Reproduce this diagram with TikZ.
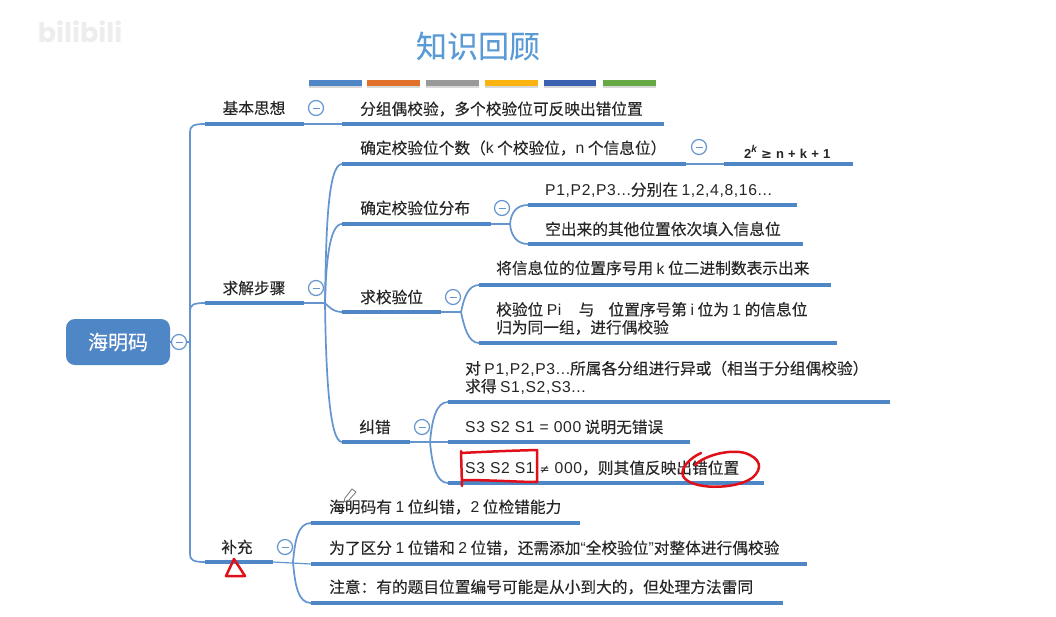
\documentclass[tikz,border=0pt]{standalone}
\usepackage{fontspec}
\setmainfont{Noto Sans CJK SC}[FakeBold=0.12]
\newfontfamily\wmfont{Poppins}
\newfontfamily\latfont{Liberation Sans}[LetterSpace=4]
\newfontfamily\symfont{DejaVu Sans}
\newcommand{\La}[1]{{\latfont #1}}
\definecolor{mmblue}{HTML}{4F86C6}
\definecolor{mmthin}{HTML}{6595CE}
\definecolor{txt}{HTML}{262626}
\definecolor{inkred}{HTML}{E0101A}
\definecolor{titleblue}{HTML}{5B9BD5}
\tikzset{
  lab/.style={anchor=west,inner sep=0pt,text=txt,font=\fontsize{15.7}{17.8}\selectfont,align=left},
  clab/.style={anchor=center,inner sep=0pt,text=txt,font=\fontsize{15.7}{17.8}\selectfont},
  barline/.style={draw=mmblue,line width=4.2pt},
  conn/.style={draw=mmthin,line width=1.7pt},
  thin conn/.style={draw=mmthin,line width=1.2pt},
  fold/.style={circle,draw=mmthin,fill=white,line width=1.2pt,minimum size=15pt,inner sep=0pt,
    path picture={\draw[mmthin,line width=1pt] ([xshift=-3.5pt]path picture bounding box.center) -- ([xshift=3.5pt]path picture bounding box.center);}},
  swatch/.style={line width=6pt},
  ink/.style={draw=inkred,line width=2.5pt,line cap=round,line join=round},
}
\begin{document}
\begin{tikzpicture}[x=1pt,y=-1pt]
\useasboundingbox (0,0) rectangle (1056,616);
\fill[white] (0,0) rectangle (1056,616);
% watermark
\node[anchor=center,inner sep=0pt,text=black!7,font=\wmfont\bfseries\fontsize{27}{27}\selectfont] (wm) at (80,32) {bilibili};
% title
\node[inner sep=0pt,text=titleblue,font=\fontsize{31}{31}\selectfont] (title) at (478,46) {知识回顾};
\foreach \p/\q in {309/362,367/420,426/479,485/538,544/596,603/656}
  \draw[swatch,draw=black!15] (\p,84.5) -- (\q,84.5);
\draw[swatch,draw=mmblue] (309,83) -- (362,83);
\draw[swatch,draw={rgb,255:red,224;green,112;blue,42}] (367,83) -- (420,83);
\draw[swatch,draw=black!40] (426,83) -- (479,83);
\draw[swatch,draw={rgb,255:red,251;green,180;blue,15}] (485,83) -- (538,83);
\draw[swatch,draw={rgb,255:red,58;green,98;blue,176}] (544,83) -- (596,83);
\draw[swatch,draw={rgb,255:red,102;green,168;blue,67}] (603,83) -- (656,83);

% coordinates for bars
\coordinate (r) at (170,342);
\coordinate (a1) at (205,124); \coordinate (a2) at (304,124);
\coordinate (b1) at (205,303); \coordinate (b2) at (304,303);
\coordinate (c1) at (205,562); \coordinate (c2) at (273,562);
\coordinate (a1c1) at (342,124); \coordinate (a1c2) at (664,124);
\coordinate (s1a) at (342,164); \coordinate (s1b) at (686,164);
\coordinate (s1c) at (724,164); \coordinate (s1d) at (853,164);
\coordinate (s2a) at (342,224); \coordinate (s2b) at (491,224);
\coordinate (s2c1a) at (528,205); \coordinate (s2c1b) at (797,205);
\coordinate (s2c2a) at (528,244); \coordinate (s2c2b) at (803,244);
\coordinate (s3a) at (342,312); \coordinate (s3b) at (441,312);
\coordinate (s3c1a) at (479,285); \coordinate (s3c1b) at (831,285);
\coordinate (s3c2a) at (479,343); \coordinate (s3c2b) at (837,343);
\coordinate (s4a) at (342,442); \coordinate (s4b) at (410,442);
\coordinate (s4c1a) at (448,402); \coordinate (s4c1b) at (890,402);
\coordinate (s4c2a) at (448,442); \coordinate (s4c2b) at (690,442);
\coordinate (s4c3a) at (448,483); \coordinate (s4c3b) at (764,483);
\coordinate (e1a) at (311,523); \coordinate (e1b) at (580,523);
\coordinate (e2a) at (311,564); \coordinate (e2b) at (807,564);
\coordinate (e3a) at (311,603); \coordinate (e3b) at (783,603);

% connectors
\draw[conn] (r) -- (190,342);
\draw[conn] (190,554) -- (190,132) .. controls (190,126) and (193,124) .. (a1);
\draw[conn] (190,311) .. controls (190,305) and (193,303) .. (b1);
\draw[conn] (190,554) .. controls (190,560) and (193,562) .. (c1);
\draw[thin conn] (a2) -- (a1c1);
\draw[thin conn] (b2) -- (325,303);
\draw[conn] (325,303) .. controls (326,240) and (327,164) .. (s1a);
\draw[conn] (325,303) .. controls (326,265) and (329,224) .. (s2a);
\draw[conn] (325,303) .. controls (328,306) and (333,312) .. (s3a);
\draw[conn] (325,303) .. controls (326,380) and (330,442) .. (s4a);
\draw[thin conn] (s1b) -- (s1c);
\draw[thin conn] (s2b) -- (510,224);
\draw[conn] (510,224) .. controls (511,212) and (517,205) .. (s2c1a);
\draw[conn] (510,224) .. controls (511,236) and (517,244) .. (s2c2a);
\draw[thin conn] (s3b) -- (461,312);
\draw[conn] (461,312) .. controls (464,298) and (468,285) .. (s3c1a);
\draw[conn] (461,312) .. controls (464,326) and (468,343) .. (s3c2a);
\draw[thin conn] (s4b) -- (s4c2a);
\draw[conn] (430,442) .. controls (432,420) and (436,402) .. (s4c1a);
\draw[conn] (430,442) .. controls (432,464) and (436,483) .. (s4c3a);
\draw[thin conn] (c2) -- (e2a);
\draw[conn] (293,562) .. controls (295,540) and (298,523) .. (e1a);
\draw[conn] (293,562) .. controls (295,585) and (298,603) .. (e3a);

% bars
\foreach \u/\v in {a1/a2,b1/b2,c1/c2,a1c1/a1c2,s1a/s1b,s1c/s1d,s2a/s2b,s2c1a/s2c1b,s2c2a/s2c2b,s3a/s3b,s3c1a/s3c1b,s3c2a/s3c2b,s4a/s4b,s4c1a/s4c1b,s4c2a/s4c2b,s4c3a/s4c3b,e1a/e1b,e2a/e2b,e3a/e3b}
  \draw[barline] (\u) -- (\v);

% root
\node[fill=mmblue,rounded corners=9pt,minimum width=104pt,minimum height=46pt,inner sep=0pt,text=white,font=\fontsize{20}{20}\selectfont] (root) at (118,342) {海明码};

% fold markers
\node[fold] (f0) at (179,342) {};
\node[fold] (f1) at (316,108) {};
\node[fold] (f2) at (316,288) {};
\node[fold] (f3) at (285,547) {};
\node[fold] (f4) at (699,147) {};
\node[fold] (f5) at (502,208) {};
\node[fold] (f6) at (453,297) {};
\node[fold] (f7) at (422,427) {};

% labels
\node[clab] (n1) at (254,108) {基本思想};
\node[clab] (n2) at (254,288) {求解步骤};
\node[clab] (n3) at (237,547) {补充};
\node[lab] (t1) at (360,109) {分组偶校验，多个校验位可反映出错位置};
\node[lab] (t2) at (360,148) {确定校验位个数（\La{k} 个校验位，\La{n} 个信息位）};
\node[lab,font=\fontsize{13}{15}\selectfont] (t2b) at (744,152) {\La{\bfseries 2\raisebox{.42em}{\fontsize{10}{10}\selectfont\itshape k} {\symfont ≥} n + k + 1}};
\node[lab] (t3) at (360,208) {确定校验位分布};
\node[lab] (t3a) at (545,190) {\La{P1,P2,P3...}分别在 \La{1,2,4,8,16...}};
\node[lab] (t3b) at (545,229) {空出来的其他位置依次填入信息位};
\node[lab] (t4) at (360,297) {求校验位};
\node[lab] (t4a) at (496,268) {将信息位的位置序号用 \La{k} 位二进制数表示出来};
\node[lab] (t4b) at (496,318.5) {校验位 \La{Pi}\hspace{1.1em}与\hspace{.9em}位置序号第 \La{i} 位为 \La{1} 的信息位\\归为同一组，进行偶校验};
\node[clab] (t5) at (375,427) {纠错};
\node[lab] (t5a) at (465,377.5) {对 \La{P1,P2,P3...}所属各分组进行异或（相当于分组偶校验）\\求得 \La{S1,S2,S3...}};
\node[lab] (t5b) at (465,427) {\La{S3 S2 S1 = 000} 说明无错误};
\node[lab] (t5c) at (465,468) {\La{S3 S2 S1 {\symfont\fontsize{12}{12}\selectfont ≠} 000}，则其值反映出错位置};
\node[lab] (t6a) at (329,507) {海明码有 \La{1} 位纠错，\La{2} 位检错能力};
\node[lab] (t6b) at (329,548) {为了区分 \La{1} 位错和 \La{2} 位错，还需添加\La{“}全校验位\La{”}对整体进行偶校验};
\node[lab] (t6c) at (329,587) {注意：有的题目位置编号可能是从小到大的，但处理方法雷同};

% hand-drawn red marks
\draw[ink] (461,451) -- (462,486);
\draw[ink] (461,453) .. controls (480,452) and (500,451) .. (537,450) -- (537,482) .. controls (520,482) and (490,480) .. (463,480);
\draw[ink] (701,453) .. controls (690,458) and (680,468) .. (683,476) .. controls (690,490) and (735,490) .. (752,478) .. controls (764,468) and (760,458) .. (745,453) .. controls (730,449) and (705,455) .. (695,465);
\draw[ink] (234,559) -- (226,576) -- (245,576) -- cycle;

% pencil cursor
\draw[black!55,line width=.8pt,fill=white] (345,498) -- (352,489) -- (356,492) -- (349,500) -- (344,502) -- cycle;
\end{tikzpicture}
\end{document}
